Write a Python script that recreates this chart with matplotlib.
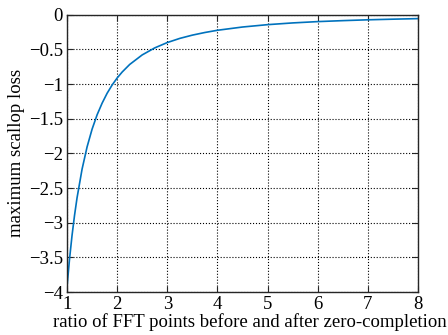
import matplotlib
matplotlib.use("Agg")
import matplotlib.pyplot as plt

plt.rcParams['font.family'] = ['Liberation Serif', 'DejaVu Serif']

# values
ratio = [1.0, 1.05, 1.1, 1.15, 1.2, 1.3, 1.4, 1.5, 1.6, 1.7, 1.8, 1.9, 2.0, 2.1,
         2.25, 2.5, 2.75, 3.0, 3.25, 3.5, 3.75, 4.0, 4.5, 5.0, 5.5, 6.0, 6.5, 7.0, 7.5, 8.0]
loss = [-3.922, -3.523, -3.183, -2.892, -2.640, -2.227, -1.906, -1.650, -1.443,
        -1.275, -1.132, -1.013, -0.912, -0.826, -0.717, -0.579, -0.478, -0.401,
        -0.341, -0.294, -0.256, -0.224, -0.177, -0.143, -0.118, -0.099, -0.085,
        -0.073, -0.064, -0.056]
xticks = [1, 2, 3, 4, 5, 6, 7, 8]
yticks = [0, -0.5, -1, -1.5, -2, -2.5, -3, -3.5, -4]

fig = plt.figure(figsize=(4.48, 3.35), dpi=100)
ax = fig.add_axes([0.1496, 0.128, 0.7834, 0.828])
ax.plot(ratio, loss, color='#0072BD', lw=1.2)
ax.set_xlim(1, 8)
ax.set_ylim(-4, 0)
ax.set_xticks(xticks)
ax.set_yticks(yticks)
ax.set_yticklabels(['0' if v == 0 else ('%g' % v).replace('-', '\u2212') for v in yticks])
ax.grid(True, color='black', linestyle=':', lw=0.8)
ax.tick_params(direction='in', labelsize=13.5, length=4, color='#262626',
               top=True, right=True, pad=3)
for s in ax.spines.values():
    s.set_color('#262626')
    s.set_linewidth(1.0)
ax.set_xlabel('ratio of FFT points before and after zero-completion', fontsize=13.5, labelpad=0)
ax.xaxis.set_label_coords(0.52, -0.075)
ax.set_ylabel('maximum scallop loss', fontsize=13.5, labelpad=3)
fig.savefig('out.png', dpi=100)
